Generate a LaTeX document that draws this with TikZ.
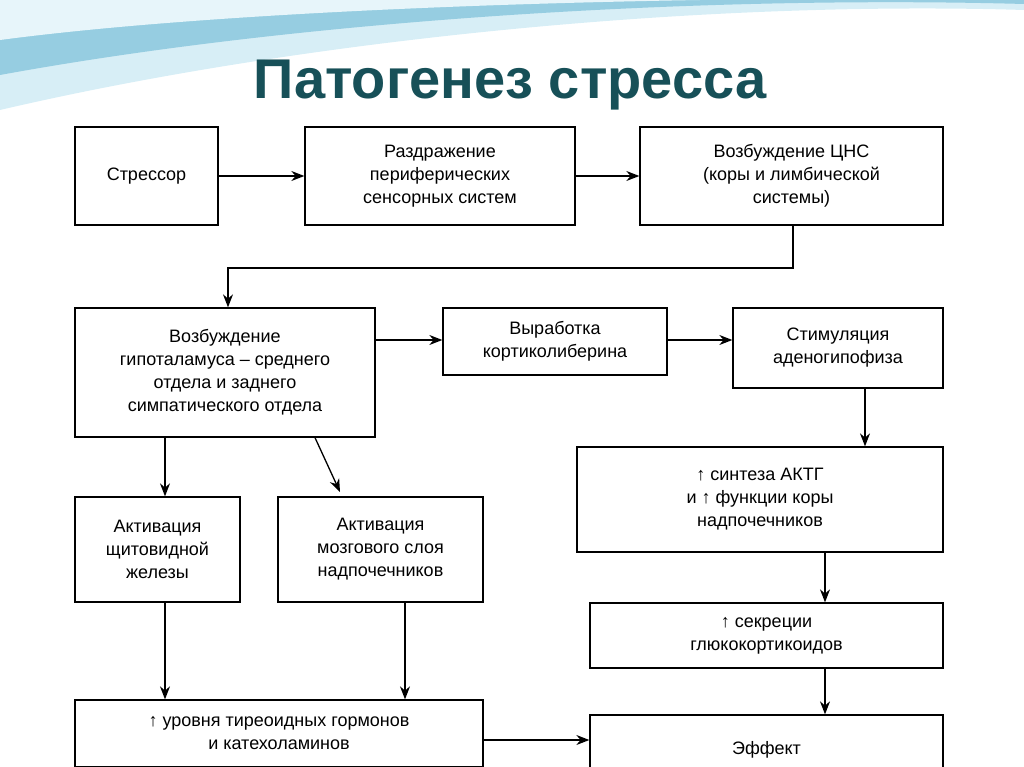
\documentclass[tikz,border=0pt]{standalone}
\usepackage{fontspec}
\setmainfont{Liberation Sans}
\usetikzlibrary{arrows.meta}
\definecolor{titleteal}{RGB}{23,80,88}
\definecolor{wave}{RGB}{150,205,225}
\definecolor{wavelight}{RGB}{215,238,246}
\begin{document}
\begin{tikzpicture}
	[
	x=1pt, y=-1pt,
	box/.style={draw=black, line width=1.3pt, align=center, inner sep=0pt, font=\fontsize{18}{23}\selectfont},
	arr/.style={-{Stealth[length=13pt, width=10pt]}, line width=1.3pt}
	]
		\useasboundingbox (0,0) rectangle (1024,767);
		% waves
		\fill [wavelight] (0,0) -- (1024,0) -- (1024,10) .. controls (700,0) and (300,40) .. (0,110) -- cycle;
		\fill [wave] (0,0) -- (1024,0) -- (1024,4) .. controls (700,-5) and (300,20) .. (0,75) -- cycle;
		\fill [wavelight!60] (0,0) -- (700,0) .. controls (400,5) and (150,20) .. (0,40) -- cycle;
		% title
		\node (title) [text=titleteal, font=\fontsize{56}{60}\selectfont\bfseries] at (510,85) {Патогенез стресса};
		
		% top row
		\node (stressor) [box, minimum width=143, minimum height=98] at (146.5,176) {Стрессор};
		\node (irrit) [box, minimum width=270, minimum height=98] at (440,176) {Раздражение\\периферических\\сенсорных систем};
		\node (cns) [box, minimum width=303, minimum height=98] at (791.5,176) {Возбуждение ЦНС\\(коры и лимбической\\системы)};
		
		% middle row
		\node (hypo) [box, minimum width=300, minimum height=129] at (225,372.5) {Возбуждение\\гипоталамуса -- среднего\\отдела и заднего\\симпатического отдела};
		\node (crh) [box, minimum width=224, minimum height=67] at (555,341.5) {Выработка\\кортиколиберина};
		\node (adeno) [box, minimum width=210, minimum height=80] at (838,348) {Стимуляция\\аденогипофиза};
		
		% left branch
		\node (thyr) [box, minimum width=165, minimum height=105] at (157.5,549.5) {Активация\\щитовидной\\железы};
		\node (medul) [box, minimum width=205, minimum height=105] at (380.5,549.5) {Активация\\мозгового слоя\\надпочечников};
		\node (horm) [box, minimum width=408, minimum height=67] at (279,733.5) {\textbf{↑} уровня тиреоидных гормонов\\и катехоламинов};
		
		% right branch
		\node (acth) [box, minimum width=366, minimum height=105] at (760,499.5) {\textbf{↑} синтеза АКТГ\\и \textbf{↑} функции коры\\надпочечников};
		\node (gluco) [box, minimum width=353, minimum height=65] at (766.5,635.5) {\textbf{↑} секреции\\глюкокортикоидов};
		\node (effect) [box, minimum width=353, minimum height=70] at (766.5,750) {Эффект};
		
		% connectors
		\draw [arr] (stressor) -- (irrit);
		\draw [arr] (irrit) -- (cns);
		\draw [arr] (cns.south -| 793,0) -- (793,268) -- (228,268) -- (hypo.north -| 228,0);
		\draw [arr] (hypo.east |- 0,340) -- (crh.west |- 0,340);
		\draw [arr] (crh.east |- 0,340) -- (adeno.west |- 0,340);
		\draw [arr] (adeno.south -| 865,0) -- (acth.north -| 865,0);
		\draw [arr] (acth.south -| 825,0) -- (gluco.north -| 825,0);
		\draw [arr] (gluco.south -| 825,0) -- (effect.north -| 825,0);
		\draw [arr] (hypo.south -| 165,0) -- (thyr.north -| 165,0);
		\draw [arr] (hypo.south -| 315,0) -- (340,492);
		\draw [arr] (thyr.south -| 165,0) -- (horm.north -| 165,0);
		\draw [arr] (medul.south -| 405,0) -- (horm.north -| 405,0);
		\draw [arr] (horm.east |- 0,740) -- (effect.west |- 0,740);
	\end{tikzpicture}
\end{document}
